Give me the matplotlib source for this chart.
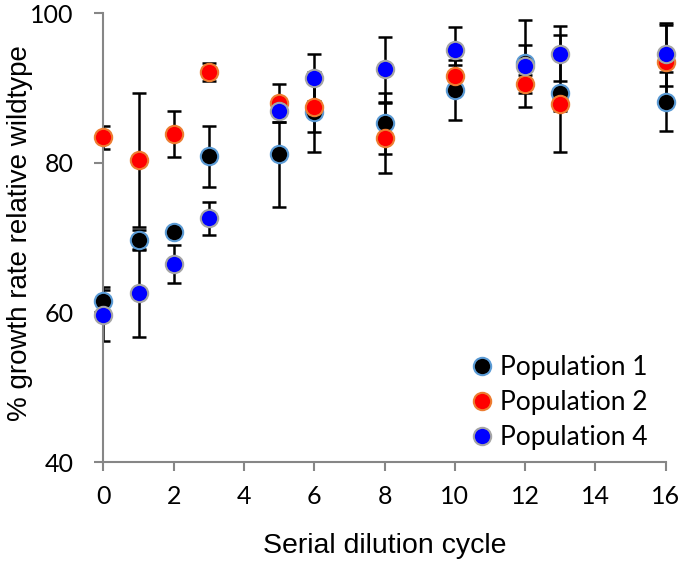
import matplotlib.pyplot as plt
import matplotlib.transforms as mtransforms
import numpy as np

plt.rcParams["font.family"] = ["Lato", "DejaVu Sans"]

# serial dilution cycles
cycles = [0, 1, 2, 3, 5, 6, 8, 10, 12, 13, 16]

pop1 = [61.6, 69.7, 70.8, 80.9, 81.2, 86.8, 85.3, 89.8, 93.3, 89.3, 88.2]
pop1_err = [1.8, 1.3, 0.5, 4.1, 7.1, 5.3, 4.1, 4.0, 5.8, 7.8, 4.0]

pop2 = [83.4, 80.4, 83.9, 92.1, 88.0, 87.5, 83.3, 91.6, 90.6, 87.9, 93.5]
pop2_err = [1.6, 9.0, 3.1, 1.2, 2.5, 3.4, 4.7, 1.5, 1.2, 1.0, 5.0]

pop4 = [59.6, 62.6, 66.5, 72.6, 87.0, 91.4, 92.5, 95.1, 92.9, 94.6, 94.5]
pop4_err = [3.4, 5.9, 2.55, 2.2, 1.5, 3.1, 4.4, 3.1, 2.8, 3.7, 4.2]

labels = ["Population 1", "Population 2", "Population 4"]
faces = ["#000000", "#ff0000", "#0000ff"]
edges = ["#5b9bd5", "#ed7d31", "#a5a5a5"]

fig = plt.figure(figsize=(6.8, 5.8), dpi=100)
ax = fig.add_axes([0.152, 0.2034, 0.827, 0.7736])

series = [(pop1, pop1_err), (pop2, pop2_err), (pop4, pop4_err)]
clip = mtransforms.TransformedBbox(mtransforms.Bbox([[0, -0.1], [1.1, 1.1]]), ax.transAxes)

for i, (vals, errs) in enumerate(series):
    eb = ax.errorbar(cycles, vals, yerr=errs, fmt="none", ecolor="black",
                     elinewidth=1.8, capsize=5, capthick=1.8, zorder=2)
    for art in eb.lines[1] + eb.lines[2]:
        art.set_clip_box(clip)
for i, (vals, errs) in enumerate(series):
    ax.plot(cycles, vals, "o", ms=12.5, mfc=faces[i], mec=edges[i], mew=1.5,
            label=labels[i], zorder=3 + i, clip_on=False)

ax.set_xlim(0, 16)
ax.set_ylim(40, 100)
ax.set_xticks(np.arange(0, 17, 2))
ax.set_yticks([40, 60, 80, 100])

for s in ["top", "right"]:
    ax.spines[s].set_visible(False)
for s in ["left", "bottom"]:
    ax.spines[s].set_color("#868686")
    ax.spines[s].set_linewidth(1.5)
ax.tick_params(direction="out", length=6.5, width=1.5, color="#868686",
               labelsize=18)
ax.tick_params(axis="y", pad=15)
ax.tick_params(axis="x", pad=10)

ax.set_xlabel("Serial dilution cycle", fontsize=20.5, family="Liberation Sans", labelpad=18)
ax.set_ylabel("% growth rate relative wildtype", fontsize=20, family="Liberation Sans")
ax.yaxis.set_label_coords(-0.125, 0.51)

leg = ax.legend(loc="lower right", bbox_to_anchor=(1.0, -0.015), frameon=False,
                prop={"family": "Lato", "size": 19}, handletextpad=0.05,
                handlelength=1.2, labelspacing=0.38, borderaxespad=0.3)

fig.savefig("out.png", dpi=100)
